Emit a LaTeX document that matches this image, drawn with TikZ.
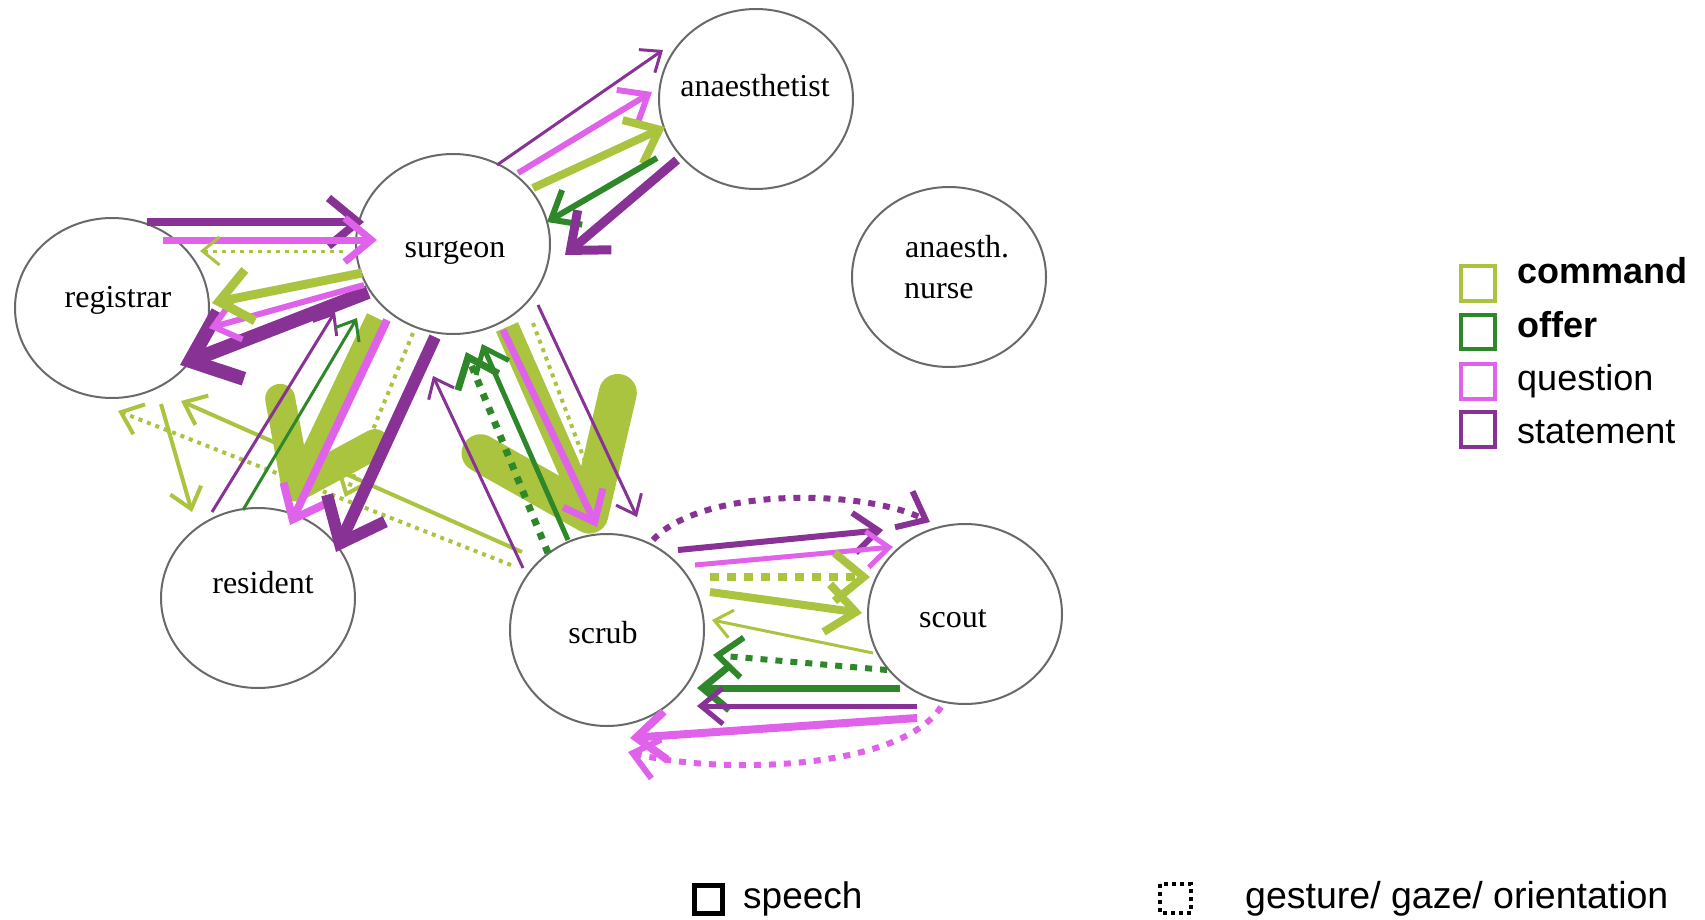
\documentclass[tikz,border=0pt]{standalone}
\usepackage{fontspec}
\setmainfont{Liberation Serif}
\newfontfamily\lsans{Liberation Sans}
\usetikzlibrary{arrows.meta,shapes.geometric}
\definecolor{cmdc}{RGB}{170,196,64}
\definecolor{offc}{RGB}{46,136,42}
\definecolor{quec}{RGB}{224,98,234}
\definecolor{stac}{RGB}{136,50,150}
\definecolor{ringc}{RGB}{105,105,105}
\begin{document}
\begin{tikzpicture}[x=1pt,y=-1pt,
 person/.style={ellipse,draw=ringc,line width=2pt,fill=white,minimum width=194pt,minimum height=180pt,inner sep=0pt},
 lbl/.style={font=\fontsize{32}{36}\selectfont,inner sep=0pt,anchor=base},
 leg/.style={font=\lsans\fontsize{36}{40}\selectfont,inner sep=0pt,anchor=base west},
 hd/.style={-{Straight Barb[length=10pt 2.4,width=16pt 4]}},
 bigA/.style={-{Straight Barb[round,length=72pt,width=105pt,line width=30pt]}},
 bigB/.style={-{Straight Barb[round,length=100pt,width=150pt,line width=38pt]}},
 cmd/.style={draw=cmdc,hd},
 off/.style={draw=offc,hd},
 que/.style={draw=quec,hd},
 sta/.style={draw=stac,hd},
 dts/.style={dash pattern=on 4pt off 5pt},
 dtm/.style={dash pattern=on 7pt off 8pt},
 dtl/.style={dash pattern=on 9pt off 8pt},
 legbox/.style={line width=4pt}
]
\useasboundingbox (0,0) rectangle (1705,920);

% people
\node[person] (anaes) at (756,99) {};
\node[person] (surgeon) at (453,244) {};
\node[person] (registrar) at (112,308) {};
\node[person] (nurse) at (949,277) {};
\node[person] (resident) at (258,598) {};
\node[person,minimum height=192pt] (scrub) at (607,630) {};
\node[person] (scout) at (965,614) {};

% endpoints
\coordinate (a1s) at (497,165); \coordinate (a1e) at (663,50);
\coordinate (a2s) at (518,173); \coordinate (a2e) at (652,92);
\coordinate (a3s) at (533,188); \coordinate (a3e) at (665,127);
\coordinate (a4s) at (657,158); \coordinate (a4e) at (547,222);
\coordinate (a5s) at (677,160); \coordinate (a5e) at (565,255);

\coordinate (b1s) at (147,222); \coordinate (b1e) at (364,222);
\coordinate (b2s) at (163,240); \coordinate (b2e) at (377,240);
\coordinate (b3s) at (343,251); \coordinate (b3e) at (200,251);
\coordinate (b4s) at (362,273); \coordinate (b4e) at (212,303);
\coordinate (b5s) at (364,285); \coordinate (b5e) at (209,328);
\coordinate (b6s) at (368,292); \coordinate (b6e) at (180,365);

\coordinate (f1s) at (511,565); \coordinate (f1e) at (118,411);
\coordinate (f2s) at (522,552); \coordinate (f2e) at (181,401);
\coordinate (f3s) at (161,404); \coordinate (f3e) at (192,512);

\coordinate (c1s) at (212,512); \coordinate (c1e) at (335,312);
\coordinate (c2s) at (243,510); \coordinate (c2e) at (357,318);
\coordinate (c3s) at (377,318); \coordinate (c3e) at (290,500);
\coordinate (c4s) at (387,320); \coordinate (c4e) at (290,525);
\coordinate (c5s) at (413,333); \coordinate (c5e) at (345,497);
\coordinate (c6s) at (435,337); \coordinate (c6e) at (336,552);

\coordinate (d1s) at (523,568); \coordinate (d1e) at (433,376);
\coordinate (d2s) at (548,553); \coordinate (d2e) at (466,352);
\coordinate (d3s) at (568,540); \coordinate (d3e) at (482,344);
\coordinate (d4s) at (507,327); \coordinate (d4e) at (597,532);
\coordinate (d5s) at (503,330); \coordinate (d5e) at (597,527);
\coordinate (d6s) at (533,323); \coordinate (d6e) at (592,480);
\coordinate (d7s) at (538,305); \coordinate (d7e) at (637,517);

\coordinate (e1s) at (653,540); \coordinate (e1e) at (930,522);
\coordinate (e2s) at (678,550); \coordinate (e2e) at (883,530);
\coordinate (e3s) at (695,565); \coordinate (e3e) at (893,547);
\coordinate (e4s) at (710,577); \coordinate (e4e) at (870,577);
\coordinate (e5s) at (710,592); \coordinate (e5e) at (862,613);
\coordinate (e6s) at (873,653); \coordinate (e6e) at (712,620);
\coordinate (e7s) at (887,670); \coordinate (e7e) at (713,655);
\coordinate (e8s) at (900,688); \coordinate (e8e) at (697,688);
\coordinate (e9s) at (917,706); \coordinate (e9e) at (697,706);
\coordinate (e10s) at (917,718); \coordinate (e10e) at (630,738);
\coordinate (e11s) at (941,707); \coordinate (e11e) at (628,752);

% surgeon - anaesthetist
\draw[sta,line width=3pt] (a1s) -- (a1e);
\draw[que,line width=6pt] (a2s) -- (a2e);
\draw[cmd,line width=8pt] (a3s) -- (a3e);
\draw[off,line width=6pt] (a4s) -- (a4e);
\draw[sta,line width=9pt] (a5s) -- (a5e);

% registrar - surgeon
\draw[sta,line width=8pt] (b1s) -- (b1e);
\draw[que,line width=7pt] (b2s) -- (b2e);
\draw[cmd,dts,line width=3pt] (b3s) -- (b3e);
\draw[sta,line width=14pt] (b6s) -- (b6e);
\draw[que,line width=6pt] (b5s) -- (b5e);
\draw[cmd,line width=9pt] (b4s) -- (b4e);

% registrar / resident / scrub
\draw[cmd,dts,line width=4pt] (f1s) -- (f1e);
\draw[cmd,line width=4pt] (f2s) -- (f2e);
\draw[cmd,line width=4pt] (f3s) -- (f3e);

% surgeon - resident
\draw[cmd,bigA,line width=22pt] (c3s) -- (c3e);
\draw[sta,line width=3pt] (c1s) -- (c1e);
\draw[off,line width=3pt] (c2s) -- (c2e);
\draw[que,line width=8pt] (c4s) -- (c4e);
\draw[cmd,dts,line width=4pt] (c5s) -- (c5e);
\draw[sta,line width=12pt] (c6s) -- (c6e);

% surgeon - scrub
\draw[cmd,dts,line width=4pt] (d6s) -- (d6e);
\draw[cmd,bigB,line width=24pt] (d4s) -- (d4e);
\draw[sta,line width=3pt] (d1s) -- (d1e);
\draw[off,dtm,line width=7pt] (d2s) -- (d2e);
\draw[off,line width=5pt] (d3s) -- (d3e);
\draw[que,line width=7pt] (d5s) -- (d5e);
\draw[sta,line width=3pt] (d7s) -- (d7e);

% scrub - scout
\draw[sta,dtm,line width=6pt] (e1s) .. controls (700,488) and (860,488) .. (e1e);
\draw[sta,line width=6pt] (e2s) -- (e2e);
\draw[que,line width=5pt] (e3s) -- (e3e);
\draw[cmd,dtl,line width=8pt] (e4s) -- (e4e);
\draw[cmd,line width=8pt] (e5s) -- (e5e);
\draw[cmd,line width=3pt] (e6s) -- (e6e);
\draw[off,dtm,line width=6pt] (e7s) -- (e7e);
\draw[off,line width=7pt] (e8s) -- (e8e);
\draw[sta,line width=5pt] (e9s) -- (e9e);
\draw[que,line width=8pt] (e10s) -- (e10e);
\draw[que,dtm,line width=6pt] (e11s) .. controls (900,770) and (720,775) .. (e11e);

% labels
\node[lbl] (anaesT) at (755,97) {anaesthetist};
\node[lbl] (surgeonT) at (455,257) {surgeon};
\node[lbl] (registrarT) at (118,307) {registrar};
\node[lbl,anchor=base west] (nurseT1) at (905,257) {anaesth.};
\node[lbl,anchor=base west] (nurseT2) at (904,298) {nurse};
\node[lbl] (residentT) at (263,593) {resident};
\node[lbl] (scrubT) at (603,643) {scrub};
\node[lbl] (scoutT) at (953,627) {scout};

% legend
\draw[legbox,draw=cmdc] (1461,266) rectangle (1495,301);
\draw[legbox,draw=offc] (1461,315) rectangle (1495,349);
\draw[legbox,draw=quec] (1461,364) rectangle (1495,399);
\draw[legbox,draw=stac] (1461,412) rectangle (1495,447);
\node[leg,font=\lsans\bfseries\fontsize{36}{40}\selectfont] (lcmd) at (1517,283) {command};
\node[leg,font=\lsans\bfseries\fontsize{36}{40}\selectfont] (loff) at (1517,337) {offer};
\node[leg] (lque) at (1517,390) {question};
\node[leg] (lsta) at (1517,443) {statement};

\draw[line width=5pt] (694,885) rectangle (722,913);
\node[leg,font=\lsans\fontsize{37}{40}\selectfont] (lspeech) at (743,908) {speech};
\draw[line width=4pt,dash pattern=on 4pt off 4pt] (1160,884) rectangle (1191,913);
\node[leg,font=\lsans\fontsize{37.5}{40}\selectfont] (lgest) at (1245,908) {gesture/ gaze/ orientation};
\end{tikzpicture}
\end{document}
